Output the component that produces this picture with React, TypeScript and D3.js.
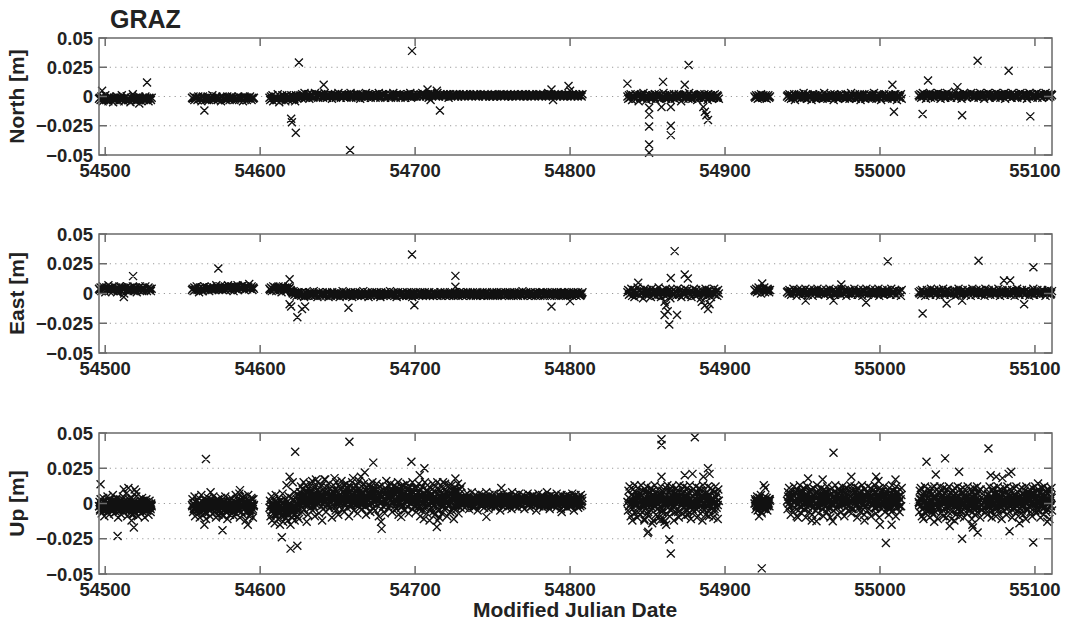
import React from "react";
import * as d3 from "d3";

// ---------- axes ----------
const X_DOMAIN = [54496, 55111];
const X_TICKS = [54500, 54600, 54700, 54800, 54900, 55000, 55100];
const Y_DOMAIN = [-0.05, 0.05];
const Y_TICKS = [-0.05, -0.025, 0, 0.025, 0.05];
const Y_TICK_LABELS = ["\u22120.05", "\u22120.025", "0", "0.025", "0.05"];
const GRID_VALUES = [-0.025, 0, 0.025];
const TITLE = "GRAZ";
const X_LABEL = "Modified Julian Date";

// ---------- North (mm), regularly sampled segments ----------
const northA = [-2,-1,-3,0,-2,-4,-1,-2,1,-3,-2,-1,-4,-2,0,-3,-1,-2,-5,-1,-2,-3,0,-2,-1,-4,-2,-1,-3,1,-2,-2,-4,-1,-3,0,-2,-1,-3,-2,-5,-1,-2,2,-3,-1,-2,-4,-1,-2,-3,0,-1,-2,-4,-2,-1,-3,-2,0,-3,-1,-2,-4,-1,-2,-3,-1];
const northB = [-1,-2,0,-3,-1,-2,-1,-3,0,-2,-1,-2,-4,-1,0,-2,-1,-3,-2,-1,0,-2,-3,-1,-2,-1,1,-2,-3,-1,-2,0,-1,-3,-2,-1,-2,-4,-1,0,-2,-1,-2,-3,-1,0,-2,-1,-3,-1,-2,0,-2,-1,-3,-2,-1,-1,-2,0,-3,-1,-2,-1,-2,-4,-1,0,-2,-1,-3,-1,-2,-1,0,-2,-3,-1,-2,-1];
const northC1 = [-1,-3,0,-2,1,-4,-1,-2,0,-3,-1,2,-2,-5,0,-1,-3,1,-2,-1,0,-4,-2,1,-1,-3,0,-2,-1,1,-3,-1,0,-2,-4,1,-1,-2,0,-1];
const northC2 = [0,1,-1,2,0,1,3,-1,0,1,2,0,-2,1,0,2,1,-1,0,3,1,0,2,-1,1,0,1,2,0,-1,1,3,0,1,-1,2,0,1,0,2,-2,1,0,1,2,-1,0,1,3,0,1,-1,2,1,0,0,2,1,-1,0,1,2,0,3,-1,1,0,2,1,0,-1,1,2,0,1,-2,0,1,2,1,0,-1,3,1,0,2,0,1,-1,1,2,0,0,1,-1,2,1,0,3,1,-1,0,2,1,0,1,-1,2,0,1,1,0,2,-1,1,0,3,1,0,-1,2,1,0,1,2,-1,0,1,0,2,1,-1,1,0,2,0,1,3,-1,0,1,2,0,1];
const northC3 = [1,0,2,1,1,0,2,1,3,0,1,2,1,0,1,2,-1,1,2,1,0,1,2,1,1,0,2,3,1,0,1,2,1,1,0,2,1,0,1,2,1,-1,1,2,0,1,1,2,1,0,2,1,1,0,1,2,1,0,1,1,2,0,1,2,1,1,0,1,2,1,0,1,1,2,1,0,2,1,1,0,1,2,1,1,0,1,2,0,1,1,2,1,0,1,1,2,1,0,1,2,1,1,0,1,1,2,1,0,1,1,2,0,1,1,1,2,0,1,1,2,1,0,1,2,1,1,0,1,2,1,0,1,1,2,1,0,1,1,2,1,0,1,1,2,1,0,2,1,1,0,1,2,1,1,0,1,2,1,0,1,2,1,1,0,1,2,3,0,1,1,2,1,0,1,2,1,1,0,2,1,1,0,1,2,1,0,1,1,2,1,0,1,2,1,1,0,1,2,1,0,1,2,1,0,1,2,1,1,0,2];
const northD = [0,-2,1,-1,2,0,-3,1,-1,0,2,-2,1,0,-4,1,-1,2,0,-2,3,-1,0,1,-3,0,2,-1,1,0,-2,1,-1,0,2,-3,1,0,-1,2,0,-2,1,-1,0,3,-1,1,-2,0,1,-1,2,0,-3,1,0,-1,2,-2,0,1,-1,0,2,-1,1,-4,0,1,-2,2,0,-1,1,0,-2,3,-1,0,1,-2,0,2,-1,1,0,-3,1,-1,2,0,-1,1,-2,0,2,-1,0,1,-3,2,0,-1,1,0,-2,1,-1,2,0,-1,1,0,-2];
const northE = [0,-1,1,0,-2,1,-1,0,2,-1,0,1,-1,0,1,-2,0,1,-1,0];
const northF = [0,1,-1,2,0,-2,1,0,-1,2,-3,1,0,-1,1,2,0,-2,1,-1,0,3,-1,0,1,-2,2,0,-1,1,0,-3,1,2,-1,0,1,-2,0,1,-1,2,0,-1,1,-2,0,3,-1,1,0,-2,1,0,-1,2,-1,0,1,-3,2,0,-1,1,0,-2,1,-1,2,0,1,-1,0,-2,2,1,-1,0,1,-2,0,3,-1,1,0,-1,2,-2,0,1,-1,0,2,-3,1,0,-1,1,2,-2,0,1,-1,0,2,-1,1,-2,0,1,3,-1,0,-2,1,0,2,-1,1,-3,0,1,-1,2,0,-1,1,-2,0,2,1,-1,0,-2,1,0,-1,2,0,-3,1,1,-1,0,2,-2];
const northG = [1,0,2,-1,1,3,0,2,1,-2,1,0,2,1,3,-1,1,0,2,1,-1,2,0,1,3,1,0,-2,2,1,0,1,2,-1,1,3,0,1,2,0,-1,1,2,1,0,4,1,-1,2,0,1,2,1,-2,0,1,3,1,0,2,-1,1,0,2,1,3,0,1,-1,2,1,0,2,1,-1,1,3,0,2,1,0,-2,1,2,1,0,3,1,-1,2,0,1,1,2,0,-1,3,1,0,2,1,-1,1,2,0,1,3,-2,1,0,2,1,0,1,2,-1,3,1,0,2,1,0,-1,2,1,1,3,0,-1,2,1,0,1,2,-2,1,0,3,1,2,0,-1,1,2,1,0,3,-1,1,2,0,1,1,-1,2,0,1,3,1,0,2,-1,1,0,2,1];
const northOutliers = [[54498,0.005],[54522,-0.006],[54527,0.012],[54564,-0.012],[54620,-0.019],[54620.5,-0.022],[54623,-0.031],[54625,0.029],[54641,0.010],[54658,-0.046],[54698,0.039],[54708,0.006],[54714,0.005],[54716,-0.012],[54710,-0.003],[54788,0.006],[54789,-0.003],[54799,0.009],[54800,0.005],[54837,0.011],[54840,-0.003],[54851,-0.0096],[54851,-0.0155],[54851,-0.0256],[54851,-0.041],[54851,-0.048],[54860,0.0125],[54859,-0.009],[54865,-0.009],[54865,-0.025],[54865,-0.033],[54874,0.010],[54876.5,0.027],[54886,-0.009],[54887,-0.013],[54888,-0.016],[54889,-0.020],[55008,0.010],[55009,-0.013],[55027.5,-0.015],[55031,0.0136],[55050,0.008],[55053,-0.016],[55063,0.0305],[55083,0.022],[55097,-0.017]];

// ---------- East (mm) ----------
const eastA = [4,3,5,2,4,6,3,4,1,5,3,4,7,2,4,3,5,4,2,6,3,4,5,1,3,4,6,3,2,5,4,3,0,4,5,3,6,2,4,3,5,4,3,6,2,4,5,3,1,4,3,5,6,3,4,2,5,3,4,6,3,2,4,5,3,4,2,4];
const eastB = [3,4,2,5,3,4,6,3,4,1,5,4,3,5,2,4,6,3,4,5,3,4,2,5,4,6,3,4,5,3,4,7,4,5,3,4,6,4,5,3,5,4,6,3,5,4,7,4,5,3,6,4,5,2,5,6,4,5,7,3,5,4,6,5,4,7,5,3,6,5,4,6,5,8,4,5,6,3,5,4];
const eastC1 = [4,3,5,2,4,6,3,5,4,2,5,3,6,4,3,5,1,4,6,3,4,5,2,4,3,6,4,5,3,2,1,0,2,-1,1,0,-2,1,0,-1];
const eastC2 = [-1,0,-2,1,-1,0,-3,-1,1,-2,0,-1,-2,0,1,-1,-2,0,-1,2,-2,-1,0,-1,-3,0,1,-1,-2,0,-1,1,-2,-1,0,-2,-1,1,0,-3,-1,0,-2,-1,1,-1,0,-2,0,-1,-2,1,-1,0,-3,-1,0,-1,2,-2,0,-1,-1,1,-2,0,-1,-2,0,1,-1,-3,0,-1,-2,1,0,-1,-2,0,-1,1,-1,-2,0,-1,2,-1,-2,0,-1,-1,1,-3,0,-1,-2,0,1,-1,0,-2,-1,0,1,-2,-1,0,-1,-3,1,0,-1,-2,0,-1,1,-1,-2,0,0,-1,2,-2,-1,0,-1,1,-2,0,-1,-3,0,1,-1,-2,0,-1,0,1,-2,-1,0,-1,-2,1,0,-1,-2,0,-1,1,-3,0,-1,0,-2,1,-1,0,-1,-2,0,1,-1,0,-2,-1,0,1,-1,-2,0,-1,0,1,-2,-1,0,-1,-2,0,1,-1,0,-2,-1,0,0,-1,1,-2,0,-1,-1,0,1,-2,0,-1,-1,0,-2,1,0,-1,-1,0,-2,0,1,-1,0,-1,-2,0,1,-1,0,-1,-2,1,0,-1,0,-2,-1,1,0,-1,0,-2,-1,0,1,-1,-1,0,-2,0,1,-1,0,-1,-2,0,0,1,-1,-2,0,-1,0,1,-1,-2,0,-1,0,-1,1,-2,0,-1,0,-1,1,-2,-1,0,0,-1,1,-2,0,-1,0,-2,1,-1,0,-1,0,-2,1,0,-1,-1,0,-2,1,0,-1,0,-1,-2,1,0,-1,0,-1,2,-2,0,-1,0,1,-1,-2,0,-1,0,1,-2,-1,0,0,-1,1,-2,0,-1,0,-1,1,-2,0,-1,0,1,-1,-2,0,-1,0,1,-1,0,-2,-1,0,1,-1,0,-2,-1,0,1,-1,0,-2,0,-1,1,0,-1,-2,0,1,-1,0,-1,-2,0,1,-1,0,-1,-2,0,1,-1,0,-1,-2,0,1,-1,0,-2,-1,0,1];
const eastD = [1,3,-1,2,0,4,-2,1,3,-3,2,0,1,5,-1,2,-2,3,0,1,-4,2,4,-1,1,3,-2,0,2,1,-3,4,0,2,-1,1,3,-2,2,0,5,-1,1,-3,2,3,0,1,-2,4,1,-1,2,0,3,-4,1,2,-1,3,0,2,-2,1,4,0,-1,2,3,-3,1,0,2,-1,4,1,-2,3,0,1,2,-1,-3,2,1,4,0,-2,3,1,-1,2,0,1,-4,3,2,-1,1,0,4,-2,2,1,-1,3,0,-3,2,1,0,4,-1,2,1,-2,3,0];
const eastE = [3,2,4,1,3,5,2,3,0,4,2,3,5,1,3,2,4,3,1,3];
const eastF = [1,2,0,3,1,-1,2,1,4,0,2,1,-2,3,1,0,2,1,3,-1,1,2,0,4,1,2,-1,1,3,0,2,1,-2,1,3,0,2,1,4,-1,1,2,0,3,1,0,2,-1,1,3,2,0,1,4,-2,1,2,0,3,1,-1,2,1,0,3,2,1,-1,4,1,0,2,3,1,-2,1,2,0,3,1,0,-1,2,1,4,0,1,2,-1,3,1,0,2,1,-2,3,1,2,0,4,1,-1,2,1,3,0,1,2,-1,1,3,0,2,1,4,-2,1,0,2,3,1,-1,2,0,1,3,1,0,2,-1,4,1,2,0,1,3,-1,2,1,0,2,1,-2,3];
const eastG = [1,0,2,-1,3,1,2,0,-2,1,3,2,0,1,-1,4,1,2,0,3,1,-1,2,0,1,3,-2,1,2,0,4,1,-1,2,1,0,3,1,2,-1,0,2,1,3,0,-2,1,2,1,4,0,1,-1,2,3,1,0,2,-1,1,3,0,2,1,-2,1,4,0,2,1,-1,3,1,0,2,1,3,-1,0,2,1,-2,4,1,0,2,3,1,-1,1,2,0,3,1,-1,2,0,1,4,1,-2,2,0,3,1,1,-1,2,0,3,1,0,2,-1,1,3,2,0,-2,1,2,4,0,1,-1,2,1,3,0,1,2,-1,0,3,1,2,-2,1,0,2,1,4,-1,1,2,0,3,1,0,-1,2,1,3,0,2,1,-2,1,0,3,2,1,-1,0,2];
const eastOutliers = [[54518,0.0146],[54512,-0.003],[54573,0.021],[54619,0.012],[54619,-0.009],[54620,-0.011],[54624,-0.020],[54627,-0.013],[54629,-0.011],[54657,-0.012],[54698,0.0328],[54699.5,-0.0098],[54726,0.0148],[54726,0.0056],[54788,-0.011],[54800,-0.0064],[54867.5,0.0356],[54874,0.016],[54865,0.013],[54876,0.0126],[54844,0.009],[54861,-0.007],[54862,-0.010],[54863,-0.015],[54861,-0.018],[54864,-0.026],[54869,-0.018],[54885,-0.007],[54887,-0.010],[54889,-0.013],[54890,-0.009],[54924,0.0084],[55005,0.027],[54952,-0.006],[54975,0.0076],[54991,-0.0076],[54970,-0.006],[55027.5,-0.0168],[55063.6,0.0275],[55099,0.022],[55093,-0.009],[55043,-0.0084],[55080,0.011],[55084,0.011],[55053,-0.006]];

// ---------- Up (mm): wide-spread samples ----------
const upA = [-2,1,-5,3,-1,-7,0,-3,4,-2,-9,1,-4,2,-1,-6,5,-3,0,-8,-2,3,-5,1,-1,-4,6,-2,-7,0,-3,2,-6,-1,4,-4,-10,1,-2,-5,3,-1,-8,0,-3,5,-2,-6,2,-4,-1,7,-3,-9,0,-2,3,-5,-1,-7,1,-4,4,-2,-8,0,-3,2,-6,-1,5,-4,-2,-9,1,-3,3,-5,0,-7,-2,4,-1,-6,2,-3,-10,0,-4,3,-2,-5,1,-8,-1,2,-3,-6,0,-2];
const upB = [-1,3,-6,0,-3,5,-9,-2,1,-5,2,-7,-1,4,-4,-10,0,-3,6,-2,-8,1,-5,3,-1,-6,0,-11,2,-3,-7,4,-2,-5,1,-9,-1,3,-4,0,-7,5,-3,-1,-6,2,-10,0,-4,-2,3,-8,-1,1,-5,-3,4,-7,0,-2,-9,2,-4,-1,5,-6,-3,0,-11,1,-2,-5,3,-8,-1,4,-3,-6,0,2,-4,-9,1,-2,6,-7,-1,3,-5,0,-3,7,-10,-1,2,-6,4,-2,-8,1,-4,5,-3,-12,0,3,-6,-1,6,-4,-9,2,-2,-7,4,-5,0,-10,3,-1];
const upC1 = [-3,2,-9,-1,5,-12,-4,0,-7,3,-14,-2,6,-8,-5,1,-11,-3,4,-6,-15,-1,2,-9,-4,7,-13,0,-6,-2,3,-10,-7,1,-5,-12,-3,5,-8,0,-15,-1,4,-7,-10,2,-4,8,-12,-2,0,-6,3,-9,-5,6,-11];
const upC2 = [3,8,-2,12,5,-6,10,1,15,-4,7,2,13,-1,9,4,-8,11,6,0,14,-3,8,3,16,-5,10,2,6,-9,12,4,-1,9,15,0,5,-7,11,3,8,-2,13,6,-4,10,1,17,2,7,-6,12,4,-1,9,14,-3,6,11,0,5,-10,8,3,13,-2,10,7,-5,15,1,9,4,-8,12,6,-1,11,3,16,-4,8,2,13,-6,10,5,0,14,-3,7,11,1,-9,9,4,12,-2,6,15,0,8,-5,11,3,7,-1,13,5,-7,10,2,16,-3,9,6,0,12,-4,8,3,14,-2,10,5,-8,11,1,7,13,-1,4,9,-6,12,6,0,15,-3,8,2,11,-5,10,4,14,-1,7,3,-9,12,6,1,9,-4,13,5,-2,10,7,-7,11,2,16,0,8,4,-3,12,6,-1,14,3,9,-6,10,5,1,13,-2,7,11,-4,8,2,15,-8,10,6,0,12,-3,9,4,-1,13,7,-5,11,2,8,14,-2,5,10,-7,12,3,0,9,6,-4,15,1,8,-2,11,4];
const upC3 = [4,-6,11,1,-3,8,14,-2,6,-9,10,2,-5,12,0,7,-11,3,15,-4,9,1,-7,13,5,-1,8,-12,4,11,-3,6,0,14,-6,2,9,-8,12,3,-2,7,15,-5,1,10,-10,5,-1,13,2,-7,8,0,11,-4,6,14,-3,3,9,-9,1,12,-2,7,4,-6,10,0,13,-5,5,2,-11,8,-1,11,3,-4,9,1,14,-7,6,0,10,-3,4,12];
const upC4 = [2,-1,5,0,3,-3,6,1,-2,4,7,0,2,-4,5,1,3,-1,8,0,2,-3,4,1,6,-2,3,0,5,-5,2,1,7,-1,3,0,4,-2,6,1,2,-3,5,0,3,8,-1,2,4,-4,1,6,0,3,-2,5,1,2,-1,7,0,4,-3,2,5,1,-1,3,6,0,2,-5,4,1,3,-2,7,0,2,5,-1,3,1,-3,6,0,4,2,-2,5,1,3,-4,8,0,2,-1,4,6,1,-2,3,0,5,-3,2,7,1,-1,4,0,3,-2,6,1,2,-4,5,0,3,1,-1,7,2,0,4,-3,3,1,5,-2,2,6,0,-1,4,1,3,-5,5,2,0,7,-2,3,1,4,-1,2,6,0,-3,5,1,3,-1,4,2,8,-2,0,3,5,-4,1,2,6,-1,3,0,4,-2,5,1,2,-3,7,0,3,1,-1,5,2,4,-4,6,0,2,-2,3,1,5,-1,4,0,6,-3,2,3,1,-1,5,0,4,-2,7,1,2,-5,3,0,6,-1,2,4,1,-3,5,0,3,-2,6,1,-1,4];
const upD = [1,-5,9,-2,12,3,-9,6,0,-12,10,-3,4,13,-7,2,8,-1,-10,11,5,-4,7,0,-8,13,2,-6,9,-1,4,-11,10,3,-3,12,-7,6,0,-9,8,1,-2,11,-5,3,9,-12,5,-1,13,2,-8,7,0,-4,10,4,-10,6,-2,12,1,-6,9,3,-11,8,-1,5,11,-7,2,13,-3,0,7,-9,10,4,-5,12,1,-2,8,-12,6,3,-6,11,0,9,-4,2,-10,13,5,-1,7,-7,10,1,-3,12,4,-9,6,0,-5,11,2,-8,8,-2,13,3,-11,9,1,-4,10,5,-6,7,-1,12,0,-10,8,4,-3,11,2,-7,9,-1,6,-12,13,3,-5,10,0,-8,7,2,-2,12,5,-9,6,-1,11,1,-4,9,3,-10,8,0,-6,12,4,-3,7,-11,10,2];
const upE = [0,3,-4,1,-2,5,-5,2,0,-3,4,-1,6,-6,1,-2,3,0,-4,2,5,-3,-1,4,-5,1,0,3,-2,2];
const upF = [2,-4,8,0,11,-2,5,-8,3,9,-1,6,-6,12,1,-3,7,4,-9,10,0,-5,8,2,13,-2,5,-7,9,3,-1,11,-4,6,0,-10,7,2,12,-3,4,-6,9,1,-1,10,5,-8,3,11,-2,6,0,-5,8,4,13,-3,2,-7,9,1,6,-1,11,-4,3,7,-9,0,10,5,-2,8,-6,12,1,4,-3,9,2,-10,6,0,11,-1,5,-5,8,3,13,-4,2,7,-8,10,0,4,-2,9,6,-6,1,12,-1,3,8,-9,5,2,11,-3,7,0,-5,10,4,-1,13,2,-7,6,1,9,-4,3,12,0,-2,8,5,-10,11,1,-3,7,4,-6,9,2,13,-1,0,6,-8,10,3,-2,8,5,-5,12,1,-4,7,2,11,-9,4,0,9,-1,6,-3,13,3,-7,8,1,10,-2,5,-10,11,4,0,7,-4,9,2,-1,12,6,-6,3,8,0,-3,10,1,-8,11,5,-2,7,3,13,-5,4,9,-1,6,0,-9,12,2,-3,8,5,1,-6,10,3,-2,11];
const upG1 = [1,-6,9,-2,11,3,-9,5,0,-11,8,-3,12,2,-7,6,-1,10,-5,4,0,-10,9,1,-4,11,-2,7,-8,3,12,0,-6,5,-1,10,2,-11,8,-3,4,12,-7,1,9,-2,6,-9,11,0,-4,7,3,-10,10,-1,5,-6,12,2,-3,8,0,-11,9,4,-5,6,-2,11,1,-8,7,3,-1,12,-4,5,0,-9,10,2,-6,8,-2,11,4,-10,6,0,-3,9,1,-7,12,3,-1,7,-5,10,-2,5,-11,8,2,-4,11,0,-8,6,3,-1,12,-6,4,9,-3,1,-10,10,2,-5,7];
const upG2 = [2,-5,10,0,-8,7,3,-2,12,-6,5,1,-10,9,-1,4,11,-4,6,0,-9,8,2,-3,12,-7,5,1,10,-2,3,-11,9,0,6,-5,11,2,-1,8,-8,4,12,-3,1,7,-6,10,3,-2,9,-10,5,0,11,-4,6,2,-7,12,1,-1,8,-9,4,10,-3,6,0,-5,11,3,-8,7,-1,9,2,-11,12,0,5,-4,8,-2,10,4,-6,6,1,-9,11,-1,3,7,-3,12,0,-7,9,2,-5,10,5,-1,8,-10,4,11,-2,6,1,-8,12,-3,3,9,-6,7,0,-4,10,2,-11,8,-1,5,11,-5];
// ---------- Up (mm): core samples near the band centre ----------
const upAcore = [-2,-4,0,-3,-1,-5,1,-2,-3,0,-6,-1,-2,2,-4,-3,-1,-5,0,-2,-3,1,-4,-1,-2,-6,0,-3,-1,-2,3,-4,-2,0,-5,-1,-3,1,-2,-4,0,-1,-3,-7,-2,1,-1,-4,-2,0,-3,-5,-1,2,-2,-3,0,-4,-1,-2,1,-5,-3,-1,0,-2,-4,-1];
const upBcore = [-2,0,-4,-1,-3,1,-5,-2,0,-3,-6,-1,2,-4,-2,0,-3,-7,-1,1,-2,-4,0,-5,-3,-1,2,-2,-6,0,-3,-1,-4,1,-2,-5,-1,0,-3,-8,-2,1,-4,-1,-2,0,-5,-3,2,-1,-4,-2,0,-6,-1,-3,1,-2,-4,0,-3,-5,-1,2,-2,-3,0,-4,-1,-6,1,-2,-3,0,-5,-1,-2,3,-4,-2];
const upC1core = [-3,-1,-6,0,-4,-2,-8,1,-5,-3,-1,-7,-2,2,-4,-6,0,-3,-9,-1,-5,-2,1,-4,-7,-3,0,-6,-1,-4,3,-2,-8,-3,0,-5,-2,-4];
const upC2core = [3,5,1,7,2,4,-1,6,3,8,0,4,2,9,5,1,3,6,-2,4,7,2,5,0,3,8,4,1,6,3,-1,5,9,2,4,7,0,3,5,1,6,4,2,8,3,-3,5,2,7,4,1,6,3,10,2,5,0,4,7,3,1,6,4,2,8,5,-1,3,6,2,4,9,1,5,3,7,0,4,2,6,3,8,1,5,-2,4,7,3,2,6,4,0,5,9,3,1,7,4,2,5,3,8,0,6,4,1,5,3,7,2,-1,4,6,3,9,2,5,1,4,7,3,0,6,2,5,8,4,1,3,6,-2,5,3,7,2,4,10,1,6,3,5,0,4,8,2,3,6];
const upC3core = [2,6,-1,4,8,0,3,-3,5,7,1,4,-2,6,2,9,0,3,-5,5,1,7,3,-1,4,8,2,0,6,3,-4,5,1,7,2,4,-2,6,3,8,0,2,5,-1,4,7,1,3,-3,6,2,9,0,4,5,-2,3,7,1,4];
const upC4core = [1,3,0,2,4,1,-1,3,2,5,0,2,1,4,-2,3,1,2,0,4,2,1,3,-1,2,4,1,0,3,5,1,2,-1,3,2,0,4,1,3,2,-2,1,4,2,0,3,1,5,2,0,1,3,-1,2,4,1,2,0,3,1,4,-1,2,3,0,1,5,2,1,3,0,2,-2,4,1,3,2,0,1,4,2,-1,3,1,2,5,0,2,3,1,-1,4,2,1,3,0,2,4,1,-2,3,2,0,1,4,2,3,-1,1,2,5,0,3,1,2,-1,4,2,0,3,1,2,4,-1,1,3,2,0,5,1,2,-2,3,1,4,0,2,3,1,-1,2,4,0,3,1,2];
const upDcore = [1,4,-2,3,0,6,-4,2,5,-1,3,0,7,-3,1,4,-5,2,6,0,-2,3,1,8,-1,4,-6,2,0,5,3,-3,1,6,-1,4,2,-4,0,7,3,-2,1,5,-5,2,4,0,-1,6,3,-3,1,8,0,2,-4,5,1,3,-2,4,0,6,-6,2,1,5,-1,3,7,0,-3,2,4,1,-5,6,2,0,3,-2,5,1,-1,4,8,-4,2,0,6,3,-2,1,5,-3,4,0,2,7,-1,3,-5,1,6,2,-2,4,0,3,-4,5,1,7,-1,2];
const upEcore = [0,2,-1,3,1,-2,4,0,2,-3,1,3,-1,0,2,4,-2,1,0,3];
const upFcore = [2,5,0,3,7,-1,4,1,6,-3,2,8,3,0,5,-2,4,1,7,2,-4,3,6,0,5,2,-1,4,8,1,3,-3,6,2,0,5,4,-2,7,1,3,6,0,2,-1,5,8,3,1,-4,4,2,6,0,3,7,-2,5,1,4,2,-3,6,0,3,8,1,5,-1,2,4,7,0,3,-2,6,1,5,2,-4,4,3,8,0,1,6,-1,3,5,2,7,-3,4,0,2,6,1,-2,5,3,8,0,4,-1,2,7,3,1,5,-3,6,0,4,2,8,-1,3,5,1,-2,6,2,4,0,7,3,-4,5,1,3,6,0,2,-1,8,4,1,5,-2,3,6];
const upG1core = [0,3,-2,5,-4,1,6,-1,2,-5,4,0,-3,7,1,-2,3,-6,2,5,-1,0,4,-3,6,1,-4,2,-1,5,0,-5,3,1,7,-2,4,-3,0,6,2,-1,-6,3,5,0,-2,4,1,-4,6,-1,2,3,-5,0,7,1,-3,4,2,-2,5,0,-4,3,6,-1,1,-6,4,2,-2,5,0,-3,7,1,3,-1,4,-4];
const upG2core = [1,4,-2,6,0,3,-4,5,2,-1,7,1,-3,4,2,6,-5,0,3,5,-2,1,7,2,-1,4,0,-4,6,3,1,-2,5,0,7,-3,2,4,-1,6,1,-5,3,5,0,2,-2,7,4,-1,1,6,-4,3,0,5,2,-3,7,1,4,-1,6,0,-5,3,2,5,-2,1,7,4,-1,0,6,-3,2,5,1,-4,3,7,0,2,-2,4];
const upOutliers = [[54497,0.0137],[54508,-0.023],[54512,0.010],[54515,0.011],[54519,0.010],[54518.5,-0.017],[54517,-0.012],[54520,0.008],[54565,0.0315],[54564,-0.015],[54575.7,-0.019],[54587,0.0095],[54592,-0.015],[54568,0.008],[54614,-0.024],[54619.6,-0.032],[54624,-0.030],[54622.6,0.0367],[54619,0.019],[54621,0.015],[54617,0.013],[54657.6,0.0438],[54673,0.029],[54667.5,0.022],[54678.4,-0.018],[54678,-0.013],[54697.6,0.0296],[54691,-0.0095],[54665,0.019],[54660,0.018],[54648,0.018],[54642,0.017],[54636,0.017],[54630,-0.013],[54640,-0.012],[54706,0.025],[54703,0.020],[54714,-0.0166],[54714.5,-0.012],[54726,0.0178],[54746,-0.0095],[54755.6,0.011],[54794.6,-0.006],[54718,0.015],[54722,0.013],[54859,0.0455],[54859,0.0415],[54880.5,0.047],[54850,-0.021],[54850.5,-0.020],[54864,-0.0256],[54865,-0.0355],[54859,0.019],[54874,0.020],[54879,0.021],[54886,0.019],[54890,0.021],[54889,0.025],[54848,-0.012],[54853,-0.014],[54858,-0.012],[54862,-0.015],[54861,-0.013],[54923.7,-0.007],[54925,0.013],[54926,0.011],[54923.7,-0.046],[54922,-0.009],[54970,0.036],[54981.5,0.019],[54953.6,0.0178],[54963,0.017],[54997.5,0.019],[55000,-0.015],[55003.8,-0.028],[55007.5,-0.015],[54969.5,-0.0126],[54959,-0.0126],[54947,-0.010],[54956,-0.012],[54990,-0.012],[55010,0.017],[54999,0.016],[55030,0.0296],[55042,0.032],[55070,0.039],[55036,0.0206],[55051,0.0225],[55053,-0.025],[55045,-0.016],[55063,-0.0206],[55059.6,-0.015],[55083.6,-0.0197],[55084.7,0.0225],[55083,0.021],[55098.9,-0.0277],[55102,0.0142],[55071.4,0.020],[55075,0.019],[55079,0.018],[55035,-0.013],[55048,-0.012],[55060,-0.017],[55090,-0.014],[55108,-0.013]];

// segment = [first MJD, last MJD, values in mm (regular sampling)]
type Seg = [number, number, number[]];
const northSegments: Seg[] = [[54496, 54530, northA], [54556, 54596, northB], [54606, 54625, northC1], [54625.5, 54700, northC2], [54700.5, 54808, northC3], [54837, 54896, northD], [54919, 54929, northE], [54940, 55014, northF], [55025, 55111, northG]];
const eastSegments: Seg[] = [[54496, 54530, eastA], [54556, 54596, eastB], [54606, 54625, eastC1], [54625.5, 54808, eastC2], [54837, 54896, eastD], [54919, 54929, eastE], [54940, 55014, eastF], [55025, 55111, eastG]];
const upSegments: Seg[] = [
  [54496, 54530, upA], [54556, 54596, upB], [54606, 54625, upC1], [54625.3, 54700, upC2], [54700.3, 54730, upC3], [54730.3, 54808, upC4], [54837, 54896, upD], [54919, 54929, upE], [54940, 55014, upF], [55025, 55066, upG1], [55068, 55111, upG2],
  [54496.2, 54529.8, upAcore], [54556.2, 54595.8, upBcore], [54606.2, 54624.8, upC1core], [54625.4, 54699.8, upC2core], [54700.4, 54729.8, upC3core], [54730.4, 54807.8, upC4core], [54837.2, 54895.8, upDcore], [54919.2, 54928.8, upEcore], [54940.2, 55013.8, upFcore], [55025.2, 55065.8, upG1core], [55068.2, 55110.8, upG2core],
];

function expand(segs: Seg[], outliers: number[][]): [number, number][] {
  const pts: [number, number][] = [];
  segs.forEach(([t0, t1, vals]) => {
    const n = vals.length;
    vals.forEach((mm, i) => {
      pts.push([t0 + (n > 1 ? (i * (t1 - t0)) / (n - 1) : 0), mm / 1000]);
    });
  });
  outliers.forEach(([t, v]) => pts.push([t, v]));
  return pts;
}

const PANELS = [
  { label: "North [m]", top: 38, bottom: 155, data: expand(northSegments, northOutliers) },
  { label: "East [m]", top: 234, bottom: 353, data: expand(eastSegments, eastOutliers) },
  { label: "Up [m]", top: 433, bottom: 574, data: expand(upSegments, upOutliers) },
];

const LEFT = 99;
const RIGHT = 1052;
const FONT = "'Liberation Sans', Arial, Helvetica, sans-serif";
const AXIS_COLOR = "#6a6a6a";
const MARK = 4;

export default function App() {
  const x = d3.scaleLinear().domain(X_DOMAIN).range([LEFT, RIGHT]);
  return (
    <svg width={1073} height={624} style={{ position: "absolute", left: 0, top: 0, background: "#fff" }} fontFamily={FONT}>
      <rect x={0} y={0} width={1073} height={624} fill="#fff" />
      <text x={110} y={28} fontSize={25} fontWeight="bold" fill="#222">{TITLE}</text>
      {PANELS.map((p, pi) => {
        const y = d3.scaleLinear().domain(Y_DOMAIN).range([p.bottom, p.top]);
        const path = d3.path();
        p.data.forEach(([t, v]) => {
          const px = x(t), py = y(v);
          path.moveTo(px - MARK, py - MARK); path.lineTo(px + MARK, py + MARK);
          path.moveTo(px - MARK, py + MARK); path.lineTo(px + MARK, py - MARK);
        });
        return (
          <g key={pi}>
            {GRID_VALUES.map((g) => (
              <line key={g} x1={LEFT} x2={RIGHT} y1={y(g)} y2={y(g)} stroke="#9a9a9a" strokeWidth={1} strokeDasharray="1.2 4.2" />
            ))}
            <path d={path.toString()} stroke="#111" strokeWidth={1.35} fill="none" />
            <rect x={LEFT} y={p.top} width={RIGHT - LEFT} height={p.bottom - p.top} fill="none" stroke={AXIS_COLOR} strokeWidth={1.5} />
            {X_TICKS.map((t) => (
              <g key={t}>
                <line x1={x(t)} x2={x(t)} y1={p.bottom} y2={p.bottom - 8} stroke={AXIS_COLOR} strokeWidth={1.5} />
                <line x1={x(t)} x2={x(t)} y1={p.top} y2={p.top + 8} stroke={AXIS_COLOR} strokeWidth={1.5} />
                <text x={x(t)} y={p.bottom + 22} fontSize={18.5} fontWeight="bold" textAnchor="middle" fill="#222">{t}</text>
              </g>
            ))}
            {Y_TICKS.map((v, i) => (
              <g key={v}>
                <line x1={LEFT} x2={LEFT + 8} y1={y(v)} y2={y(v)} stroke={AXIS_COLOR} strokeWidth={1.5} />
                <line x1={RIGHT} x2={RIGHT - 8} y1={y(v)} y2={y(v)} stroke={AXIS_COLOR} strokeWidth={1.5} />
                <text x={93} y={y(v)} dy="0.36em" fontSize={18.5} fontWeight="bold" textAnchor="end" fill="#222">{Y_TICK_LABELS[i]}</text>
              </g>
            ))}
            <text transform={`translate(24,${(p.top + p.bottom) / 2}) rotate(-90)`} fontSize={21} fontWeight="bold" textAnchor="middle" fill="#222">{p.label}</text>
          </g>
        );
      })}
      <text x={575} y={617} fontSize={21} fontWeight="bold" textAnchor="middle" fill="#222">{X_LABEL}</text>
    </svg>
  );
}
